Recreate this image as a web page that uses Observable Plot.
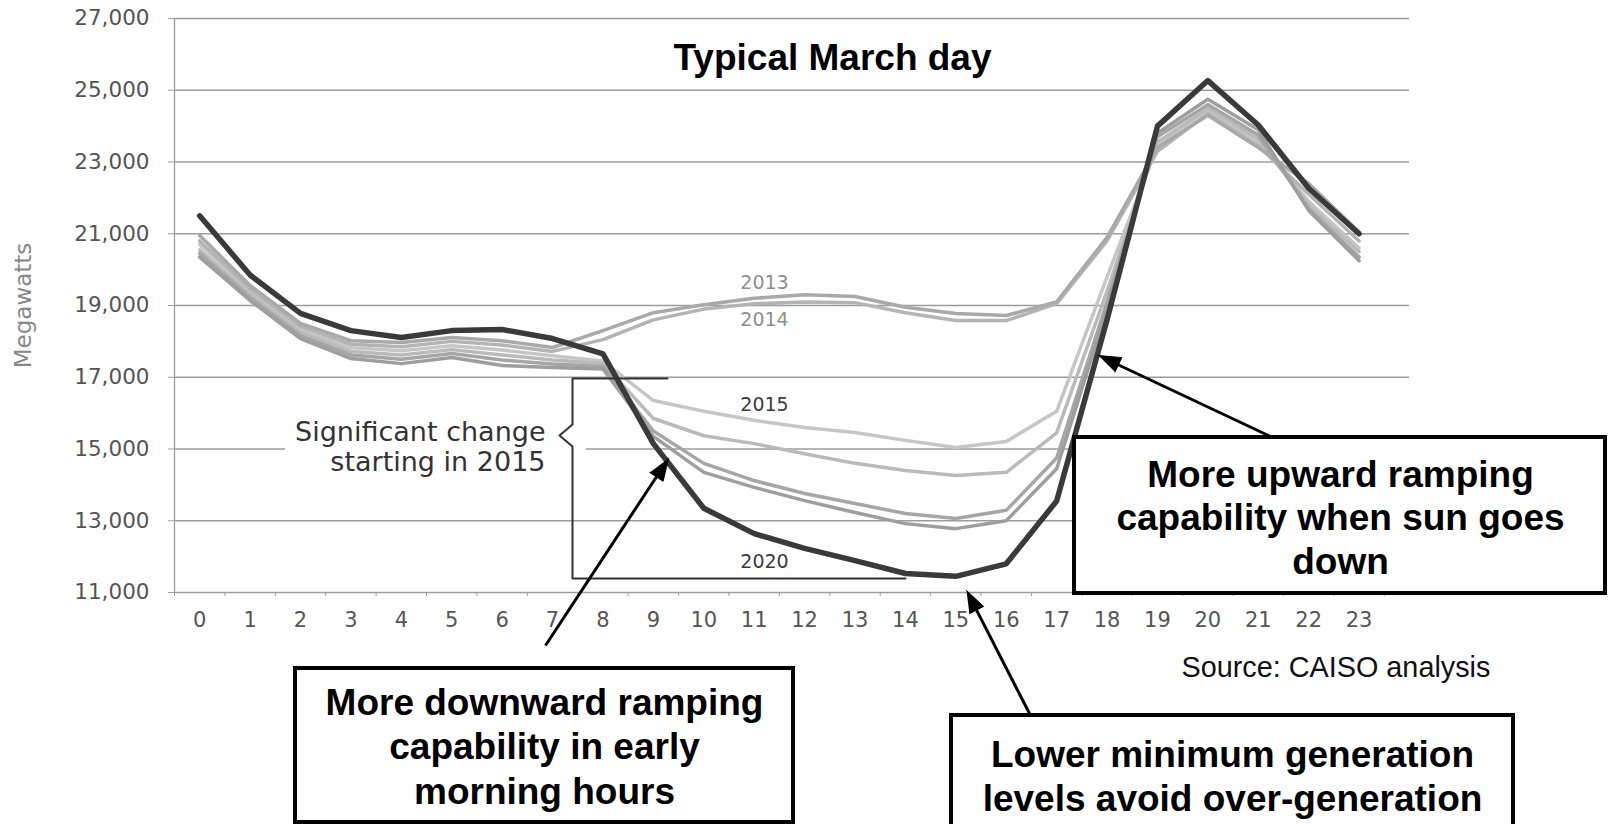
<!DOCTYPE html>
<html><head><meta charset="utf-8">
<script src="https://cdn.jsdelivr.net/npm/d3@7"></script>
<script src="https://cdn.jsdelivr.net/npm/@observablehq/plot@0.6"></script>
<style>
html,body{margin:0;padding:0;background:#fff;}
#chart{width:1608px;height:824px;overflow:hidden;}
</style>
</head><body><div id="chart"></div>
<script>
// ---------- data ----------
const hours = d3.range(24);
const yTicks = d3.range(11000, 27001, 2000);
const hourBoundaries = d3.range(-0.5, 24, 1);
const years = ["2015", "2016", "2014", "2013", "2017", "2018", "2020"];
const load2013 = [20950,19560,18500,18020,17970,18110,18020,17830,18300,18800,19020,19200,19300,19250,18950,18780,18720,19100,20900,23400,24300,23400,22400,21050];
const load2014 = [20800,19460,18420,17920,17850,18000,17900,17720,18050,18600,18900,19050,19100,19080,18800,18580,18580,19050,20800,23300,24350,23450,22100,20800];
const load2015 = [20700,19380,18330,17820,17740,17880,17760,17600,17450,16350,16050,15800,15600,15460,15240,15040,15210,16050,19800,23450,24450,23550,21900,20600];
const load2016 = [20550,19300,18250,17720,17620,17770,17620,17480,17380,15850,15370,15150,14870,14600,14400,14260,14350,15450,19400,23550,24500,23650,21800,20500];
const load2017 = [20450,19220,18160,17620,17500,17660,17480,17370,17300,15500,14600,14120,13760,13480,13200,13060,13290,14750,19100,23700,24600,23750,21700,20350];
const load2018 = [20350,19140,18080,17520,17380,17550,17330,17270,17230,15350,14350,13930,13560,13230,12920,12780,13000,14450,18900,23800,24750,23900,21650,20250];
const load2020 = [21500,19850,18780,18300,18110,18300,18330,18080,17650,15150,13350,12640,12230,11890,11530,11450,11800,13550,18600,24000,25270,24030,22270,21000];
const seriesByYear = {"2013": load2013, "2014": load2014, "2015": load2015, "2016": load2016, "2017": load2017, "2018": load2018, "2020": load2020};

const title = "Typical March day";
const yLabel = "Megawatts";
const bracketNote = "Significant change\nstarting in 2015";
const source = "Source: CAISO analysis";
const boxTexts = [
  "More downward ramping\ncapability in early\nmorning hours",
  "More upward ramping\ncapability when sun goes\ndown",
  "Lower minimum generation\nlevels avoid over-generation"
];

const rows = years.flatMap(yr => hours.map(h => ({hour: h, mw: seriesByYear[yr][h], year: yr})));

// ---------- styles / layout ----------
const W = 1608, H = 824, mL = 174, mR = 199, mT = 18, mB = 232;
const xs = d3.scaleLinear([-0.5, 24], [mL, W - mR]);
const ys = d3.scaleLinear([11000, 27000], [H - mB, mT]);
const X = px => xs.invert(px), Y = py => ys.invert(py);

const lineStyle = {
  "2013": {stroke: "#a9a9a9", w: 3.5},
  "2014": {stroke: "#b4b4b4", w: 3.5},
  "2015": {stroke: "#c6c6c6", w: 3.5},
  "2016": {stroke: "#bababa", w: 3.5},
  "2017": {stroke: "#a6a6a6", w: 3.5},
  "2018": {stroke: "#9e9e9e", w: 3.5},
  "2020": {stroke: "#3a3a3a", w: 5.5}
};

const gridColor = "#9c9c9c";
const sans = "DejaVu Sans";
const bold = "Liberation Sans, Arial, sans-serif";

// annotation geometry (pixels)
const boxes = [
  {x1: 295, x2: 793, y1: 668, y2: 822, cx: 544, base: 803, lh: 1.19},
  {x1: 1074, x2: 1605, y1: 437, y2: 593, cx: 1340, base: 573, lh: 1.17},
  {x1: 951, x2: 1513, y1: 715, y2: 840, cx: 1232, base: 810, lh: 1.18}
];
const arrows = [
  {sx: 545, sy: 645, tx: 668, ty: 458},
  {sx: 1270, sy: 436, tx: 1098, ty: 355},
  {sx: 1030, sy: 715, tx: 966, ty: 590}
];
const L = 22, HW = 8;
const shafts = [], heads = [];
arrows.forEach((a, i) => {
  const dx = a.tx - a.sx, dy = a.ty - a.sy, len = Math.hypot(dx, dy);
  const ux = dx / len, uy = dy / len, nx = -uy, ny = ux;
  shafts.push({x1: X(a.sx), y1: Y(a.sy), x2: X(a.tx - ux * L * 0.8), y2: Y(a.ty - uy * L * 0.8)});
  [[a.tx, a.ty], [a.tx - L * ux + HW * nx, a.ty - L * uy + HW * ny], [a.tx - L * ux - HW * nx, a.ty - L * uy - HW * ny]]
    .forEach(([px, py]) => heads.push({id: i, x: X(px), y: Y(py)}));
});
const bracketPts = [[667,378],[572,378],[572,424],[559,435],[572,446],[572,578],[905,578]].map(([px,py]) => ({x: X(px), y: Y(py)}));

const yearLabels = [
  {t: "2013", px: 764, py: 282, fill: "#8f8f8f"},
  {t: "2014", px: 764, py: 319, fill: "#8f8f8f"},
  {t: "2015", px: 764, py: 404, fill: "#3c3c3c"},
  {t: "2020", px: 764, py: 561, fill: "#3c3c3c"}
];

const lineMarks = years.map(yr => Plot.line(rows.filter(d => d.year === yr), {
  x: "hour", y: "mw", stroke: lineStyle[yr].stroke, strokeWidth: lineStyle[yr].w,
  curve: "linear", strokeLinejoin: "round", strokeLinecap: "round"
}));

const plot = Plot.plot({
  width: W, height: H,
  marginLeft: mL, marginRight: mR, marginTop: mT, marginBottom: mB,
  x: {domain: [-0.5, 24]},
  y: {domain: [11000, 27000]},
  style: {fontFamily: sans, background: "white", overflow: "visible"},
  marks: [
    Plot.gridY(yTicks, {stroke: gridColor, strokeOpacity: 1, strokeWidth: 1.3}),
    Plot.ruleX([-0.5], {stroke: gridColor, strokeWidth: 1.3}),
    Plot.axisY(yTicks, {tickSize: 6, tickPadding: 19, tickFormat: d3.format(","), stroke: gridColor, fill: "#555", fontSize: 21.5, label: null}),
    Plot.axisX(hours, {tickSize: 0, tickPadding: 20, fill: "#555", fontSize: 21, label: null}),
    Plot.axisX(hourBoundaries, {tickSize: 4, tickFormat: () => "", stroke: gridColor, label: null}),
    Plot.text([yLabel], {frameAnchor: "left", dx: -151, rotate: -90, textAnchor: "middle", text: d => d, fontSize: 23, fill: "#888"}),
    // white backing behind the bracket note
    Plot.rect([0], {x1: X(285), x2: X(586), y1: Y(405), y2: Y(472), fill: "white"}),
    ...lineMarks,
    Plot.line(bracketPts, {x: "x", y: "y", stroke: "#333", strokeWidth: 2}),
    Plot.text([bracketNote], {x: X(545), y: Y(470), text: d => d, textAnchor: "end", lineAnchor: "bottom", lineHeight: 1.11, fontSize: 27, fill: "#333"}),
    Plot.text(yearLabels, {x: d => X(d.px), y: d => Y(d.py), text: "t", fill: d => d.fill, fontSize: 19}),
    Plot.text([title], {x: X(832), y: Y(69), text: d => d, lineAnchor: "bottom", fontFamily: bold, fontWeight: "bold", fontSize: 37, fill: "#000"}),
    Plot.text([source], {x: X(1181), y: Y(676), text: d => d, textAnchor: "start", lineAnchor: "bottom", fontFamily: bold, fontSize: 28.8, fill: "#111"}),
    // arrows
    Plot.link(shafts, {x1: "x1", y1: "y1", x2: "x2", y2: "y2", stroke: "#000", strokeWidth: 3}),
    Plot.line(heads, {x: "x", y: "y", z: "id", fill: "#000", stroke: "#000", strokeWidth: 1}),
    // boxes
    Plot.rect(boxes, {x1: d => X(d.x1), x2: d => X(d.x2), y1: d => Y(d.y1), y2: d => Y(d.y2), fill: "white", stroke: "#000", strokeWidth: 4}),
    ...boxes.map((b, i) => Plot.text([boxTexts[i]], {x: X(b.cx), y: Y(b.base), text: d => d, lineAnchor: "bottom", lineHeight: b.lh, fontFamily: bold, fontWeight: "bold", fontSize: 37, fill: "#000"}))
  ]
});
document.getElementById("chart").appendChild(plot);
</script>
</body></html>
